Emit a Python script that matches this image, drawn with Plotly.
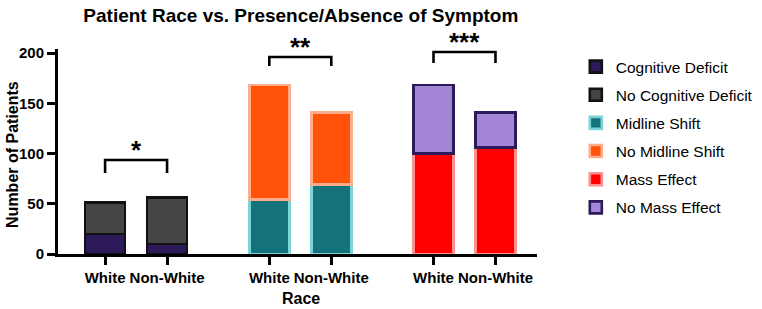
import plotly.graph_objects as go

# ---- data ----
races = ["White", "Non-White"]
group_pos = [0.0, 2.65, 5.3]          # left bar of each symptom group
cognitive_deficit = [20, 10]
no_cognitive_deficit = [31, 46]
midline_shift = [54, 69]
no_midline_shift = [114, 72]
mass_effect = [100, 106]
no_mass_effect = [68, 35]
significance = ["*", "**", "***"]
bracket_top = [93.5, 196, 201]
bracket_leg = [80.5, 187, 190]
y_ticks = [0, 50, 100, 150, 200]

FONT = "Liberation Sans, Arial, Helvetica, sans-serif"

series = [
    ("Cognitive Deficit", cognitive_deficit, 0, "#2C1A5A", "#111111"),
    ("No Cognitive Deficit", no_cognitive_deficit, 0, "#454545", "#111111"),
    ("Midline Shift", midline_shift, 1, "#13727A", "#7ED3D8"),
    ("No Midline Shift", no_midline_shift, 1, "#FF5208", "#FFAC8A"),
    ("Mass Effect", mass_effect, 2, "#FF0000", "#FF9090"),
    ("No Mass Effect", no_mass_effect, 2, "#A387D6", "#2C1A5A"),
]

fig = go.Figure()
for name, vals, g, fill, line in series:
    xs = [group_pos[g], group_pos[g] + 1]
    fig.add_trace(go.Bar(
        x=xs, y=vals, name=name, legendgroup=name,
        width=0.645,
        marker=dict(color=fill, line=dict(color=line, width=2.6)),
    ))

tick_x = []
tick_t = []
for g in group_pos:
    tick_x += [g, g + 1]
    tick_t += races

for g, s, top, leg in zip(group_pos, significance, bracket_top, bracket_leg):
    x0, x1 = g, g + 1
    fig.add_shape(type="path",
                  path=f"M {x0},{leg} L {x0},{top} L {x1},{top} L {x1},{leg}",
                  xref="x", yref="y", line=dict(color="black", width=2.6))
    fig.add_annotation(x=(x0 + x1) / 2, y=top, xref="x", yref="y", text=s,
                       showarrow=False, font=dict(family=FONT, size=26, color="black", weight="bold"),
                       yanchor="middle", xanchor="center", yshift=10.5)

fig.add_annotation(x=-0.094, y=0.488, xref="paper", yref="paper", text="Number of Patients",
                   textangle=-90, showarrow=False, xanchor="center", yanchor="middle",
                   font=dict(family=FONT, size=16, color="black", weight="bold"))
fig.add_annotation(x=0.507, y=-0.215, xref="paper", yref="paper", text="Race",
                   showarrow=False, xanchor="center", yanchor="middle",
                   font=dict(family=FONT, size=16, color="black", weight="bold"))

fig.update_layout(
    width=762, height=309,
    margin=dict(l=58, r=225, t=49, b=55, autoexpand=False),
    paper_bgcolor="white", plot_bgcolor="white",
    barmode="stack",
    title=dict(text="Patient Race vs. Presence/Absence of Symptom",
               x=0.507, xref="paper", xanchor="center",
               y=1 - 15 / 309, yref="container", yanchor="middle",
               font=dict(family=FONT, size=19, color="black", weight="bold")),
    font=dict(family=FONT, color="black"),
    legend=dict(x=1.081, xanchor="left", y=0.995, yanchor="top",
                traceorder="grouped", tracegroupgap=5,
                font=dict(family=FONT, size=15.5, color="black"),
                bgcolor="rgba(0,0,0,0)"),
    xaxis=dict(range=[-0.76, 6.97], tickvals=tick_x, ticktext=tick_t,
               showline=True, linecolor="black", linewidth=3,
               ticks="outside", ticklen=8, tickwidth=2.6, tickcolor="black",
               showgrid=False, zeroline=False,
               tickfont=dict(family=FONT, size=15, color="black", weight="bold")),
    yaxis=dict(range=[0, 204], tickvals=y_ticks,
               showline=True, linecolor="black", linewidth=3,
               ticks="outside", ticklen=8, tickwidth=2.6, tickcolor="black",
               showgrid=False, zeroline=False,
               tickfont=dict(family=FONT, size=15, color="black", weight="bold")),
)

fig.write_html("out.html")
